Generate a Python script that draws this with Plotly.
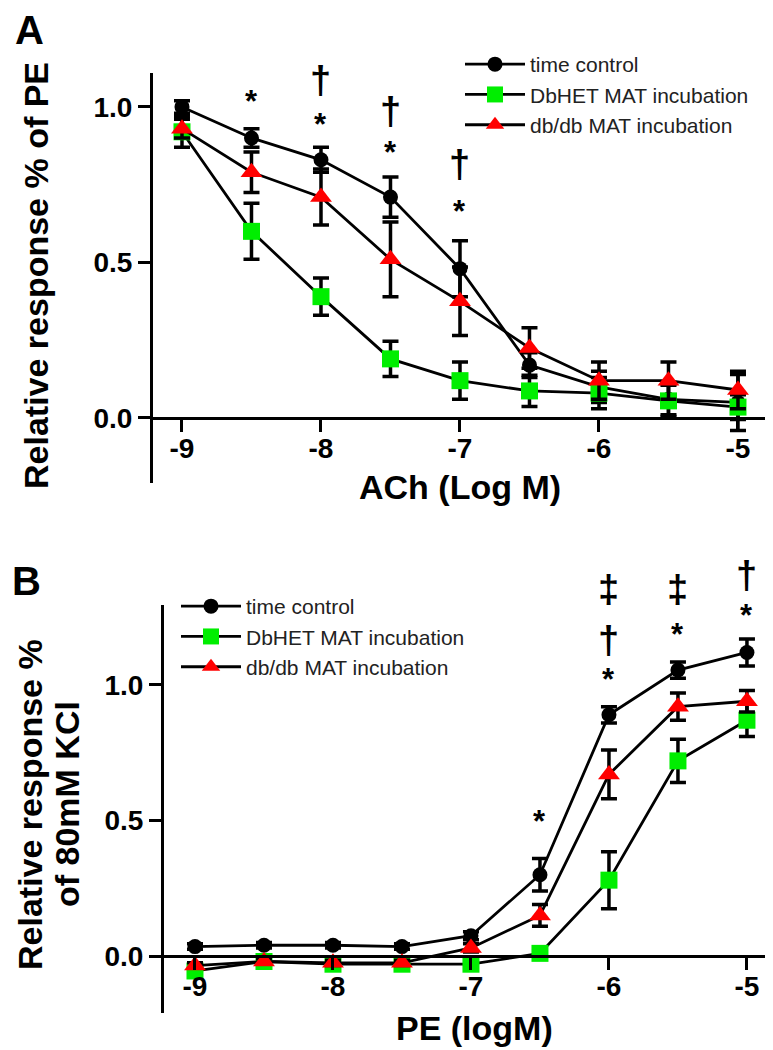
import plotly.graph_objects as go

# ---------------- data ----------------
log_conc = [-9, -8.5, -8, -7.5, -7, -6.5, -6, -5.5, -5]
tick_vals = [-9, -8, -7, -6, -5]
tick_text = ["-9", "-8", "-7", "-6", "-5"]
y_tick_vals = [0.0, 0.5, 1.0]
y_tick_text = ["0.0", "0.5", "1.0"]

series_names = ["time control", "DbHET MAT incubation", "db/db MAT incubation"]

# Panel A: ACh relaxation (relative response % of PE)
a_time_control = [1.00, 0.90, 0.83, 0.71, 0.48, 0.17, 0.10, 0.06, 0.05]
a_time_control_err = [0.02, 0.03, 0.04, 0.065, 0.09, 0.04, 0.05, 0.05, 0.09]
a_dbhet = [0.92, 0.60, 0.39, 0.19, 0.12, 0.087, 0.08, 0.055, 0.035]
a_dbhet_err = [0.05, 0.09, 0.06, 0.057, 0.06, 0.05, 0.05, 0.05, 0.04]
a_dbdb = [0.93, 0.79, 0.71, 0.51, 0.375, 0.225, 0.12, 0.12, 0.09]
a_dbdb_err = [0.03, 0.065, 0.09, 0.12, 0.11, 0.065, 0.06, 0.06, 0.06]

# Panel B: PE contraction (relative response % of 80mM KCl)
b_time_control = [0.035, 0.04, 0.04, 0.035, 0.075, 0.30, 0.89, 1.055, 1.12]
b_time_control_err = [0.01, 0.01, 0.01, 0.01, 0.015, 0.06, 0.03, 0.03, 0.05]
b_dbhet = [-0.055, -0.02, -0.03, -0.03, -0.03, 0.01, 0.28, 0.72, 0.87]
b_dbhet_err = [0.01, 0.01, 0.01, 0.01, 0.01, 0.01, 0.105, 0.08, 0.06]
b_dbdb = [-0.035, -0.02, -0.025, -0.025, 0.03, 0.15, 0.67, 0.92, 0.94]
b_dbdb_err = [0.01, 0.01, 0.01, 0.01, 0.015, 0.04, 0.09, 0.05, 0.04]

# significance marks: (x, symbol, y)
sig_a = [(-8.5, "*", 1.006), (-8, "†", 1.06), (-8, "*", 0.93),
         (-7.5, "†", 0.96), (-7.5, "*", 0.84), (-7, "†", 0.79), (-7, "*", 0.65)]
sig_b = [(-6.5, "*", 0.48), (-6, "‡", 1.325), (-6, "†", 1.137), (-6, "*", 1.004),
         (-5.5, "‡", 1.325), (-5.5, "*", 1.173), (-5, "†", 1.376), (-5, "*", 1.24)]

# axis ranges
xr_a = [-9.2086, -4.784]
yr_a = [-0.209, 1.109]
xr_b = [-9.2246, -4.775]
yr_b = [-0.21, 1.295]

# ---------------- styles ----------------
FONT = "Liberation Sans"
styles = [
    dict(symbol="circle", color="black", size=15),
    dict(symbol="square", color="#00ee00", size=17),
    dict(symbol="triangle-up", color="#ff0000", size=19),
]

fig = go.Figure()

def add_panel(ys, errs, xa, ya, legend_name):
    for name, y, e, st in zip(series_names, ys, errs, styles):
        fig.add_trace(go.Scatter(
            x=log_conc, y=y, name=name, mode="lines+markers",
            xaxis=xa, yaxis=ya, legend=legend_name,
            line=dict(color="black", width=2.8),
            marker=dict(symbol=st["symbol"], color=st["color"], size=st["size"],
                        line=dict(width=0)),
            error_y=dict(type="data", array=e, visible=True, color="black",
                         thickness=3.5, width=8),
        ))

add_panel([a_time_control, a_dbhet, a_dbdb],
          [a_time_control_err, a_dbhet_err, a_dbdb_err], "x", "y", "legend")
add_panel([b_time_control, b_dbhet, b_dbdb],
          [b_time_control_err, b_dbhet_err, b_dbdb_err], "x2", "y2", "legend2")

tickfont = dict(family=FONT, size=28, color="black", weight="bold")
common_x = dict(showline=True, linecolor="black", linewidth=3, ticks="outside",
                ticklen=12, tickwidth=3, tickcolor="black", tickvals=tick_vals,
                ticktext=tick_text, tickfont=tickfont, showgrid=False,
                zeroline=False, anchor="free", ticklabelstandoff=-8)
common_y = dict(showline=True, linecolor="black", linewidth=3, ticks="outside",
                ticklen=12, tickwidth=3, tickcolor="black", tickvals=y_tick_vals,
                ticktext=y_tick_text, tickfont=tickfont, showgrid=False,
                zeroline=False)

W, H = 773, 1050

legend_font = dict(family=FONT, size=21, color="#222")
fig.update_layout(
    width=W, height=H, margin=dict(l=0, r=0, t=0, b=0),
    paper_bgcolor="white", plot_bgcolor="white",
    xaxis=dict(domain=[145 / W, 760 / W], range=xr_a,
               position=1 - 410 / H, **common_x),
    yaxis=dict(domain=[1 - 475 / H, 1 - 65 / H], range=yr_a,
               anchor="x", **common_y),
    xaxis2=dict(domain=[156 / W, 770 / W], range=xr_b,
                position=1 - 948 / H, **common_x),
    yaxis2=dict(domain=[1 - 1005 / H, 1 - 597 / H], range=yr_b,
                anchor="x2", **common_y),
    legend=dict(x=452 / W, y=1 - 36 / H, xanchor="left", yanchor="top",
                bgcolor="rgba(0,0,0,0)", borderwidth=0, itemwidth=60,
                font=legend_font),
    legend2=dict(x=168 / W, y=1 - 578 / H, xanchor="left", yanchor="top",
                 bgcolor="rgba(0,0,0,0)", borderwidth=0, itemwidth=60,
                 font=legend_font),
    showlegend=True,
)

ann = []
for xr, yr, yrange, marks in (("x", "y", yr_a, sig_a), ("x2", "y2", yr_b, sig_b)):
    for xv, sym, yv in marks:
        frac = (yv - yrange[0]) / (yrange[1] - yrange[0])
        ann.append(dict(x=xv, y=frac, xref=xr, yref=yr + " domain", text=sym,
                        showarrow=False, xanchor="center", yanchor="middle",
                        yshift=4 if sym == "*" else 8,
                        font=dict(family=FONT, size=31 if sym == "*" else 38,
                                  color="black", weight="bold")))

title_font = dict(family=FONT, size=34, color="black", weight="bold")
ann += [
    dict(text="A", x=21 / W, y=1 - 22 / H, xref="paper", yref="paper", showarrow=False,
         xanchor="center", yanchor="middle",
         font=dict(family=FONT, size=40, color="black", weight="bold")),
    dict(text="B", x=18 / W, y=1 - 573 / H, xref="paper", yref="paper", showarrow=False,
         xanchor="center", yanchor="middle",
         font=dict(family=FONT, size=40, color="black", weight="bold")),
    dict(text="ACh (Log M)", x=452 / W, y=1 - 479 / H, xref="paper", yref="paper",
         showarrow=False, xanchor="center", yanchor="middle", font=title_font),
    dict(text="PE (logM)", x=466 / W, y=1 - 1020 / H, xref="paper", yref="paper",
         showarrow=False, xanchor="center", yanchor="middle", font=title_font),
    dict(text="Relative response % of PE", x=28 / W, y=1 - 268 / H, xref="paper",
         yref="paper", showarrow=False, textangle=-90, xanchor="center",
         yanchor="middle", font=title_font),
    dict(text="Relative response %", x=22 / W, y=1 - 797 / H, xref="paper",
         yref="paper", showarrow=False, textangle=-90, xanchor="center",
         yanchor="middle", font=title_font),
    dict(text="of 80mM KCl", x=59 / W, y=1 - 796 / H, xref="paper",
         yref="paper", showarrow=False, textangle=-90, xanchor="center",
         yanchor="middle", font=title_font),
]
fig.update_layout(annotations=ann)

fig.write_html("out.html")
